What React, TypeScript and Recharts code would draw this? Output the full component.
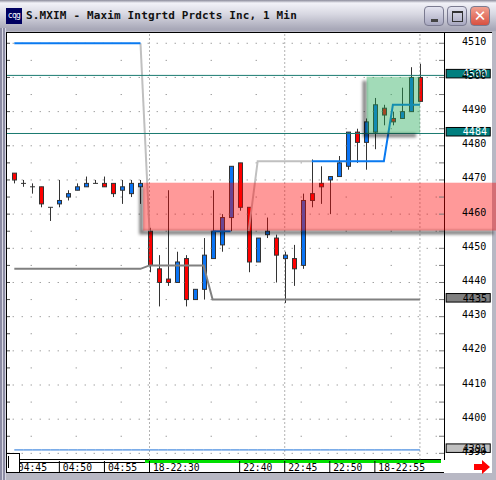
import React from "react";
import { ComposedChart, Bar, Line, XAxis, YAxis, ReferenceLine, ReferenceArea } from "recharts";

const _ = null;
const openPrice = [4472,4469,4468,4468,4462,4463,4465,4467,4468,4469,4469,4469,4467,4466,4468,4455,4444,4441,4440,4447,4435,4438,4447,4451,4459,4475,4462,4446,4454,4453,4447,4447,4445,4466,4469,4470,4471,4474,4484,4481,4484,4491,4488,4488,4490,4500];
const closePrice = [4470,4469,4468,4463,4462,4464,4466,4468,4469,4469,4468,4466,4468,4469,4469,4445,4440,4440,4446,4435,4438,4448,4455,4459,4474,4462,4446,4453,4455,4448,4448,4444,4464,4464,4468,4471,4475,4484,4481,4487,4492,4489,4487,4490,4500,4493];
const highPrice = [4472,4470,4469,4468,4462,4470,4467,4469,4471,4470,4471,4469,4470,4470,4470,4456,4448,4467,4449,4448,4438,4453,4467,4460,4474,4475,4462,4453,4459,4454,4449,4451,4466,4476,4474,4471,4477,4484,4485,4488,4494,4492,4490,4497,4503,4504];
const lowPrice = [4469,4468,4466,4462,4458,4462,4464,4467,4468,4469,4468,4465,4463,4465,4463,4443,4433,4439,4440,4433,4435,4435,4447,4449,4455,4461,4443,4446,4453,4440,4434,4439,4444,4462,4463,4460,4471,4473,4475,4473,4479,4486,4486,4488,4490,4493];
const topBlue = [4510,4510,4510,4510,4510,4510,4510,4510,4510,4510,4510,4510,4510,4510,4510,_,_,_,_,_,_,_,_,_,_,_,_,_,_,_,_,_,_,_,_,_,_,_,_,_,_,_,_,_,_,_];
const midBlue = [_,_,_,_,_,_,_,_,_,_,_,_,_,_,_,_,_,_,_,_,_,_,4455,4455,4455,_,_,_,_,_,_,_,_,_,_,_,_,_,_,_,_,_,_,_,_,_];
const endBlue = [_,_,_,_,_,_,_,_,_,_,_,_,_,_,_,_,_,_,_,_,_,_,_,_,_,_,_,_,_,_,_,_,_,4475.5,4475.5,4475.5,4475.5,4475.5,4475.5,4475.5,4475.5,4475.5,4492,4492,4492,4492];
const dropGrey = [_,_,_,_,_,_,_,_,_,_,_,_,_,_,4510,4455,_,_,_,_,_,_,_,_,_,_,_,_,_,_,_,_,_,_,_,_,_,_,_,_,_,_,_,_,_,_];
const riseGrey = [_,_,_,_,_,_,_,_,_,_,_,_,_,_,_,_,_,_,_,_,_,_,_,_,_,_,4455,4475.5,4475.5,4475.5,4475.5,4475.5,4475.5,4475.5,_,_,_,_,_,_,_,_,_,_,_,_];
const lowerGrey = [4444,4444,4444,4444,4444,4444,4444,4444,4444,4444,4444,4444,4444,4444,4444,4445,4445,4445,4445,4445,4445,4445,4435,4435,4435,4435,4435,4435,4435,4435,4435,4435,4435,4435,4435,4435,4435,4435,4435,4435,4435,4435,4435,4435,4435,4435];
const floorBlue = [4391,4391,4391,4391,4391,4391,4391,4391,4391,4391,4391,4391,4391,4391,4391,4391,4391,4391,4391,4391,4391,4391,4391,4391,4391,4391,4391,4391,4391,4391,4391,4391,4391,4391,4391,4391,4391,4391,4391,4391,4391,4391,4391,4391,4391,4391];
const timeTicks = [0,5,10,15,25,30,35,40];
const timeLabels = ["04:45","04:50","04:55","18-22:30","22:40","22:45","22:50","18-22:55"];
const sessionLines = [15,30,45];
const priceTicks = [4510,4505,4500,4495,4490,4485,4480,4475,4470,4465,4460,4455,4450,4445,4440,4435,4430,4425,4420,4415,4410,4405,4400,4395,4390];
const majorRows = [4510,4500,4490,4480,4470,4460,4450,4440,4430,4420,4410,4400,4390];
const minorRows = [4505,4495,4485,4475,4465,4455,4445,4435,4425,4415,4405,4395];

const data = openPrice.map((open, i) => ({
  i, open, close: closePrice[i], range: [lowPrice[i], highPrice[i]],
  topBlue: topBlue[i], midBlue: midBlue[i], endBlue: endBlue[i],
  dropGrey: dropGrey[i], riseGrey: riseGrey[i], lowerGrey: lowerGrey[i], floorBlue: floorBlue[i],
}));

const MONO = "'DejaVu Sans Mono', monospace";

const Candle = (p: any) => {
  const { x, y, width, height, payload } = p;
  const hi = payload.range[1], lo = payload.range[0];
  const k = height / (hi - lo);
  const cx = Math.round(x + width / 2) + 0.5;
  const top = y + (hi - Math.max(payload.open, payload.close)) * k;
  const bot = y + (hi - Math.min(payload.open, payload.close)) * k;
  const fill = payload.close > payload.open ? "#0a74f5" : "#ff0000";
  return (
    <g>
      <line x1={cx} x2={cx} y1={y} y2={y + height} stroke="#333" strokeWidth={1} />
      {payload.open === payload.close ? (
        <line x1={cx - 2.5} x2={cx + 2.5} y1={top} y2={top} stroke="#333" strokeWidth={1} />
      ) : (
        <rect x={cx - 2} y={top} width={4} height={bot - top} fill={fill} stroke="#333" strokeWidth={1} />
      )}
    </g>
  );
};

const PriceTick = (p: any) => {
  const { y, payload } = p;
  const major = payload.value % 10 === 0;
  return (
    <g>
      <line x1={439} x2={444} y1={y} y2={y} stroke="#777" />
      <line x1={7} x2={10} y1={y} y2={y} stroke="#555" />
      {major && (
        <text x={462} y={y + 1.5} fontFamily={MONO} fontSize={10} fill="#000" letterSpacing={0.1}>{payload.value}</text>
      )}
    </g>
  );
};

const TimeTick = (p: any) => {
  const { x, payload } = p;
  const label = timeLabels[timeTicks.indexOf(payload.value)];
  return (
    <g>
      <line x1={x} x2={x} y1={461} y2={472} stroke="#000" />
      <text x={x + 3.5} y={471} fontFamily={MONO} fontSize={9.7} fill="#000">{label}</text>
    </g>
  );
};

const PriceBox = (fill: string, color: string, text: string) => (p: any) => {
  const { x, y, width, height } = p;
  return (
    <g>
      <rect x={x} y={y} width={width} height={height} fill={fill} stroke="#000" />
      <text x={x + 16.5} y={y + 8} fontFamily={MONO} fontSize={10} fill={color} letterSpacing={0.1}>{text}</text>
    </g>
  );
};

const ShadowBox = (fill: string, opacity: number) => (p: any) => {
  const { x, y, width, height } = p;
  const b = y + height, r = x + width;
  const ell = `M${x - 4} ${y + 4}H${x}V${b}H${r - 4}V${b + 4}H${x - 4}Z`;
  return (
    <g>
      <path d={ell} fill="#000" fillOpacity={0.5} style={{ filter: "blur(1.6px)" }} />
      <rect x={x} y={y} width={width} height={height} fill={fill} fillOpacity={opacity} style={{ filter: "blur(0.5px)" }} />
    </g>
  );
};

const WinButton = ({ left, bg, children }: any) => (
  <div style={{ position: "absolute", left, top: 6, width: 20, height: 20, borderRadius: 4, background: bg, border: "1px solid #7a7a90", boxSizing: "border-box", display: "flex", alignItems: "center", justifyContent: "center" }}>{children}</div>
);

export default function App() {
  return (
    <div style={{ position: "fixed", left: 0, top: 0, width: 496, height: 480, overflow: "hidden", background: "#b8b8c4" }}>
      <div style={{ position: "absolute", left: 0, top: 0, width: 496, height: 31, background: "linear-gradient(#8a8a9a 0,#f2f2f8 3px,#d8d8e2 14px,#a8a8b8 29px)" }} />
      <div style={{ position: "absolute", left: 0, top: 28, width: 6, height: 452, background: "repeating-linear-gradient(90deg,#8c8ca4 0,#8c8ca4 2px,#d8d8e4 2px,#d8d8e4 3px)" }} />
      <div style={{ position: "absolute", left: 6, top: 8, width: 16, height: 16, background: "#000060", color: "#fff", font: `8px ${MONO}`, lineHeight: "16px", textAlign: "center", letterSpacing: -0.6 }}>cqg</div>
      <div style={{ position: "absolute", left: 26, top: 8, font: `bold 11px ${MONO}`, letterSpacing: 0.15, color: "#111", lineHeight: "16px", whiteSpace: "pre" }}>S.MXIM - Maxim Intgrtd Prdcts Inc, 1 Min</div>
      <WinButton left={424} bg="linear-gradient(#e4e4f0,#a8a8c0)"><div style={{ width: 7, height: 3, background: "#444", marginTop: 8 }} /></WinButton>
      <WinButton left={447} bg="linear-gradient(#e4e4f0,#a8a8c0)"><div style={{ width: 9, height: 8, border: "1px solid #333", borderTopWidth: 2 }} /></WinButton>
      <WinButton left={470} bg="linear-gradient(#f0a090,#d85040)"><span style={{ color: "#fff", font: "bold 15px 'DejaVu Sans'", lineHeight: "18px" }}>✕</span></WinButton>
      <div style={{ position: "absolute", left: 6, top: 32, width: 486, height: 441, background: "#fff", borderTop: "1px solid #000", borderLeft: "1px solid #000", boxSizing: "border-box" }} />
      <div style={{ position: "absolute", left: 444, top: 32, width: 1, height: 428, background: "#000" }} />
      <div style={{ position: "absolute", left: 20, top: 459, width: 424, height: 14, borderBottom: "1px solid #000", boxSizing: "border-box" }} />
      <div style={{ position: "absolute", left: 20, top: 459, width: 125, height: 4, background: "#fff", borderTop: "1px solid #000", borderBottom: "1px solid #000", boxSizing: "border-box" }} />
      <div style={{ position: "absolute", left: 145, top: 459, width: 296, height: 4, background: "#00e000", borderTop: "1px solid #000", boxSizing: "border-box" }} />
      <div style={{ position: "absolute", left: 0, top: 0, zIndex: 1 }}>
        <ComposedChart width={496} height={480} data={data} margin={{ top: 32, right: 0, bottom: 0, left: 7 }}>
          <XAxis dataKey="i" type="number" domain={[-0.81, 47.67]} ticks={timeTicks} tick={<TimeTick />} axisLine={false} tickLine={false} height={20.5} allowDataOverflow interval={0} />
          <YAxis orientation="right" type="number" domain={[4388.2, 4513.3]} ticks={priceTicks} tick={<PriceTick />} axisLine={false} tickLine={false} width={52} allowDataOverflow interval={0} />
          {majorRows.map((v) => (
            <ReferenceLine key={v} y={v} stroke="#777" strokeDasharray="1 8" strokeDashoffset={1.7} />
          ))}
          {minorRows.map((v) => (
            <ReferenceLine key={v} y={v} stroke="#777" strokeDasharray="1 44" strokeDashoffset={37.7} />
          ))}
          {sessionLines.map((v) => (
            <ReferenceLine key={v} x={v} stroke="#666" strokeDasharray="1 3" />
          ))}
          <Line dataKey="floorBlue" stroke="#1a70d8" strokeWidth={1} dot={false} isAnimationActive={false} />
          <Line dataKey="lowerGrey" stroke="#808080" strokeWidth={2} dot={false} isAnimationActive={false} />
          <Line dataKey="dropGrey" stroke="#c0c0c0" strokeWidth={2} dot={false} isAnimationActive={false} />
          <Line dataKey="riseGrey" stroke="#c0c0c0" strokeWidth={2} dot={false} isAnimationActive={false} />
          <Bar dataKey="range" barSize={7} shape={<Candle />} isAnimationActive={false} />
          <Line dataKey="topBlue" stroke="#0a7af0" strokeWidth={2} dot={false} isAnimationActive={false} />
          <Line dataKey="midBlue" stroke="#0a7af0" strokeWidth={2} dot={false} isAnimationActive={false} />
          <Line dataKey="endBlue" stroke="#0a7af0" strokeWidth={2} dot={false} isAnimationActive={false} />
          <ReferenceLine y={4500.6} stroke="#1a7a70" />
          <ReferenceLine y={4483.6} stroke="#1a7a70" />
          <ReferenceArea x1={47.91} x2={52.8} y1={4499.87} y2={4502.36} ifOverflow="visible" zIndex={890} shape={PriceBox("#007f7f", "#fff", "4500") as any} />
          <ReferenceArea x1={47.91} x2={52.8} y1={4482.87} y2={4485.36} ifOverflow="visible" zIndex={890} shape={PriceBox("#007f7f", "#fff", "4484") as any} />
          <ReferenceArea x1={47.91} x2={52.8} y1={4434.27} y2={4436.76} ifOverflow="visible" zIndex={890} shape={PriceBox("#808080", "#000", "4435") as any} />
          <ReferenceArea x1={47.91} x2={52.8} y1={4390.27} y2={4392.76} ifOverflow="visible" zIndex={890} shape={PriceBox("#c0c0c0", "#000", "4391") as any} />
          <ReferenceArea x1={14.3} x2={53.6} y1={4455.2} y2={4469.2} ifOverflow="visible" zIndex={900} shape={ShadowBox("#ff0000", 0.4) as any} />
          <ReferenceArea x1={39.08} x2={45.02} y1={4483.7} y2={4500.2} ifOverflow="visible" zIndex={900} shape={ShadowBox("#22aa55", 0.42) as any} />
        </ComposedChart>
      </div>
      <div style={{ position: "absolute", left: 6, top: 453, width: 14, height: 20, background: "#fff", border: "1px solid #000", boxSizing: "border-box", zIndex: 2 }}>
        <div style={{ position: "absolute", left: 1, top: 2, width: 1, height: 12, background: "#000" }} />
      </div>
      <svg style={{ position: "absolute", left: 474, top: 460, zIndex: 2 }} width={16} height={14}><path d="M0 4H8V0L16 7L8 14V10H0Z" fill="#ff0000" /></svg>
    </div>
  );
}
